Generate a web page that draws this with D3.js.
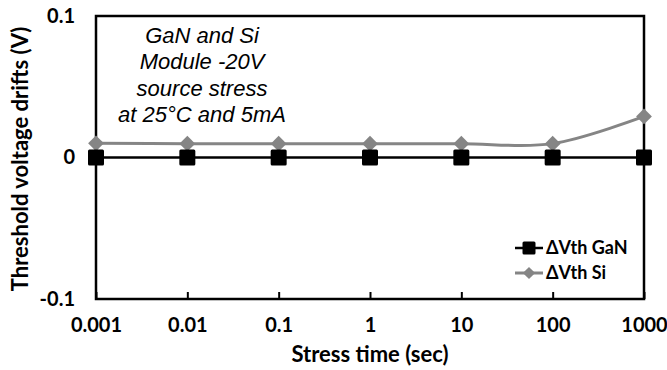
<!DOCTYPE html>
<html>
<head>
<meta charset="utf-8">
<script src="https://cdn.jsdelivr.net/npm/d3@7/dist/d3.min.js"></script>
<style>
  html, body { margin: 0; padding: 0; background: #fff; }
  svg { display: block; }
</style>
</head>
<body>
<svg id="chart" width="667" height="370"></svg>
<script>
// Stress times (s) and threshold-voltage drift (V) per device
const times = [0.001, 0.01, 0.1, 1, 10, 100, 1000];
const gan = [0, 0, 0, 0, 0, 0, 0];
const si = [0.01, 0.0098, 0.0098, 0.0098, 0.0098, 0.0098, 0.029];
const xTickLabels = ["0.001", "0.01", "0.1", "1", "10", "100", "1000"];
const yTicks = [-0.1, 0, 0.1];
const yTickLabels = ["-0.1", "0", "0.1"];
const seriesNames = ["\u0394Vth GaN", "\u0394Vth Si"];
const noteLines = ["GaN and Si", "Module -20V", "source stress", "at 25\u00B0C and 5mA"];

const svg = d3.select("#chart");
const plotL = 96, plotR = 644, plotT = 16, plotB = 299;
const boldFont = "Lato, 'Open Sans', sans-serif";

const x = d3.scaleLog().domain([0.001, 1000]).range([plotL, plotR]);
const y = d3.scaleLinear().domain([-0.1, 0.1]).range([plotB, plotT]);

// Plot frame
svg.append("rect")
  .attr("x", plotL).attr("y", plotT)
  .attr("width", plotR - plotL).attr("height", plotB - plotT)
  .attr("fill", "none").attr("stroke", "#000").attr("stroke-width", 2.5);

// Bottom axis: inward ticks, labels below
const xAxis = d3.axisBottom(x)
  .tickValues(times)
  .tickSizeInner(-7).tickSizeOuter(0)
  .tickFormat((d, i) => xTickLabels[i]);
const gx = svg.append("g").attr("transform", `translate(0,${plotB})`).call(xAxis);
gx.select(".domain").remove();
gx.selectAll(".tick line").attr("stroke", "#000").attr("stroke-width", 2);
gx.selectAll(".tick text")
  .attr("y", 19).attr("dy", "0.71em")
  .attr("font-family", boldFont).attr("font-weight", "bold")
  .attr("font-size", 20).attr("fill", "#000");

// Left axis labels
const yAxis = d3.axisLeft(y)
  .tickValues(yTicks).tickSize(0).tickPadding(21)
  .tickFormat((d, i) => yTickLabels[i]);
const gy = svg.append("g").attr("transform", `translate(${plotL},0)`).call(yAxis);
gy.select(".domain").remove();
gy.selectAll(".tick text")
  .attr("font-family", boldFont).attr("font-weight", "bold")
  .attr("font-size", 20).attr("fill", "#000");

// Axis titles
svg.append("text")
  .attr("x", (plotL + plotR) / 2).attr("y", 362)
  .attr("text-anchor", "middle")
  .attr("font-family", boldFont).attr("font-weight", "bold")
  .attr("font-size", 22).text("Stress time (sec)");
svg.append("text")
  .attr("transform", `translate(28,159) rotate(-90)`)
  .attr("text-anchor", "middle")
  .attr("font-family", boldFont).attr("font-weight", "bold")
  .attr("font-size", 22).text("Threshold voltage drifts (V)");

// Si series: smoothed grey line with diamonds
const siLine = d3.line()
  .x((d, i) => x(times[i])).y(d => y(d))
  .curve(d3.curveCatmullRom.alpha(0));
svg.append("path").datum(si)
  .attr("d", siLine).attr("fill", "none")
  .attr("stroke", "#858585").attr("stroke-width", 3);
const diamond = d3.symbol().type(d3.symbolSquare).size(125);
svg.selectAll(".si").data(si).join("path")
  .attr("class", "si")
  .attr("d", diamond)
  .attr("transform", (d, i) => `translate(${x(times[i])},${y(d)}) rotate(45)`)
  .attr("fill", "#858585");

// GaN series: black line with squares
const ganLine = d3.line().x((d, i) => x(times[i])).y(d => y(d));
svg.append("path").datum(gan)
  .attr("d", ganLine).attr("fill", "none")
  .attr("stroke", "#000").attr("stroke-width", 2.5);
svg.selectAll(".gan").data(gan).join("rect")
  .attr("class", "gan")
  .attr("x", (d, i) => x(times[i]) - 8).attr("y", d => y(d) - 8)
  .attr("width", 16).attr("height", 16).attr("rx", 1.5)
  .attr("fill", "#000");

// Annotation
svg.append("text")
  .attr("font-family", "'Liberation Sans', Arial, sans-serif")
  .attr("font-style", "italic").attr("font-size", 22)
  .attr("text-anchor", "middle")
  .selectAll("tspan").data(noteLines).join("tspan")
  .attr("x", 202).attr("y", (d, i) => 43 + i * 26.3)
  .text(d => d);

// Legend
const legend = svg.append("g");
const ly = [248, 273];
legend.append("line").attr("x1", 515).attr("x2", 543).attr("y1", ly[0]).attr("y2", ly[0])
  .attr("stroke", "#000").attr("stroke-width", 2.5);
legend.append("rect").attr("x", 529 - 6.5).attr("y", ly[0] - 6.5)
  .attr("width", 13).attr("height", 13).attr("rx", 1.5).attr("fill", "#000");
legend.append("line").attr("x1", 515).attr("x2", 543).attr("y1", ly[1]).attr("y2", ly[1])
  .attr("stroke", "#858585").attr("stroke-width", 3);
legend.append("path").attr("d", d3.symbol().type(d3.symbolSquare).size(75))
  .attr("transform", `translate(529,${ly[1]}) rotate(45)`).attr("fill", "#858585");
legend.selectAll("text").data(seriesNames).join("text")
  .attr("x", 546).attr("y", (d, i) => ly[i]).attr("dy", "0.35em")
  .attr("font-family", boldFont).attr("font-weight", "bold")
  .attr("font-size", 18).text(d => d);
</script>
</body>
</html>
